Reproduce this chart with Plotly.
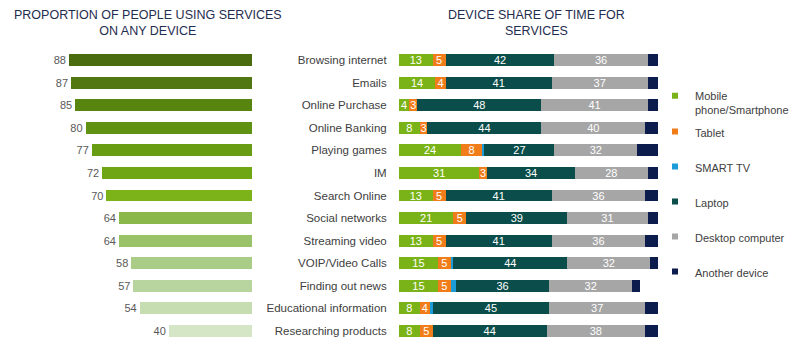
import plotly.graph_objects as go

services = ["Browsing internet", "Emails", "Online Purchase", "Online Banking", "Playing games",
            "IM", "Search Online", "Social networks", "Streaming video", "VOIP/Video Calls",
            "Finding out news", "Educational information", "Researching products"]

proportion = [88, 87, 85, 80, 77, 72, 70, 64, 64, 58, 57, 54, 40]
prop_colors = ["#4A6B0E", "#507711", "#588510", "#5F9212", "#679C13", "#6FA614", "#7BB318",
               "#8BB84A", "#9AC268", "#A9CC86", "#B8D5A0", "#C5DDB1", "#D5E6C6"]

mobile = [13, 14, 4, 8, 24, 31, 13, 21, 13, 15, 15, 8, 8]
tablet = [5, 4, 3, 3, 8, 3, 5, 5, 5, 5, 5, 4, 5]
smart_tv = [0, 0, 0, 0, 1, 0, 0, 0, 0, 1, 2, 1, 0]
laptop = [42, 41, 48, 44, 27, 34, 41, 39, 41, 44, 36, 45, 44]
desktop = [36, 37, 41, 40, 32, 28, 36, 31, 36, 32, 32, 37, 38]
another = [4, 4, 4, 5, 8, 4, 5, 4, 5, 3, 3, 5, 5]

devices = [
    ("Mobile<br>phone/Smartphone", mobile, "#7AB317", True),
    ("Tablet", tablet, "#F07D1A", True),
    ("SMART TV", smart_tv, "#1B9BD7", False),
    ("Laptop", laptop, "#0A4D4A", True),
    ("Desktop computer", desktop, "#A6A6A6", True),
    ("Another device", another, "#0C1C4C", False),
]

FONT = "Liberation Sans, Arial, sans-serif"

fig = go.Figure()

fig.add_trace(go.Bar(
    x=proportion, y=services, orientation="h", xaxis="x", yaxis="y",
    marker=dict(color=prop_colors, line=dict(width=0)),
    text=[str(v) for v in proportion], textposition="outside",
    textfont=dict(size=11, color="#595959", family=FONT),
    cliponaxis=False, showlegend=False, hoverinfo="x+y",
))

for i, (name, vals, color, labelled) in enumerate(devices):
    fig.add_trace(go.Bar(
        x=vals, y=services, orientation="h", xaxis="x2", yaxis="y2",
        name=name, marker=dict(color=color, line=dict(width=0)),
        text=[str(v) for v in vals] if labelled else None,
        textposition="inside" if labelled else "none",
        insidetextanchor="middle", textangle=0,
        textfont=dict(size=11, color="white", family=FONT),
        showlegend=False,
    ))
    fig.add_trace(go.Scatter(
        x=[None], y=[None], mode="markers", xaxis="x2", yaxis="y2",
        name=name, legendgroup="g%d" % i,
        legend="legend" if i == 0 else "legend2",
        marker=dict(symbol="square", size=6, color=color),
        showlegend=True,
    ))

legend_common = dict(xanchor="left", yanchor="top", tracegroupgap=16, itemwidth=30,
                     valign="top", font=dict(size=11, color="#404040", family=FONT),
                     bgcolor="rgba(0,0,0,0)")

fig.update_layout(
    width=800, height=352,
    margin=dict(l=0, r=0, t=49, b=10, autoexpand=False),
    paper_bgcolor="white", plot_bgcolor="white",
    barmode="stack", bargap=0.47,
    uniformtext=dict(minsize=11, mode="show"),
    font=dict(family=FONT, size=11, color="#404040"),
    xaxis=dict(domain=[44 / 800, 252 / 800], range=[100, 0], visible=False, fixedrange=True),
    yaxis=dict(anchor="x", autorange="reversed", visible=False),
    xaxis2=dict(domain=[399 / 800, 658 / 800], range=[0, 100], visible=False),
    yaxis2=dict(anchor="x2", autorange="reversed", showline=False, showgrid=False,
                ticks="outside", ticklen=9, tickcolor="rgba(0,0,0,0)",
                tickfont=dict(size=11.5, color="#404040", family=FONT)),
    legend=dict(x=655 / 800, y=0.887, **legend_common),
    legend2=dict(x=655 / 800, y=0.765, **legend_common),
    annotations=[
        dict(text="PROPORTION OF PEOPLE USING SERVICES<br>ON ANY DEVICE", x=148 / 800, y=1,
             xref="paper", yref="paper", xanchor="center", yanchor="bottom", yshift=9,
             showarrow=False, font=dict(size=12.5, color="#1F2D4F", family=FONT)),
        dict(text="DEVICE SHARE OF TIME FOR<br>SERVICES", x=536 / 800, y=1,
             xref="paper", yref="paper", xanchor="center", yanchor="bottom", yshift=9,
             showarrow=False, font=dict(size=12.5, color="#1F2D4F", family=FONT)),
    ],
)

fig.write_html("out.html")
